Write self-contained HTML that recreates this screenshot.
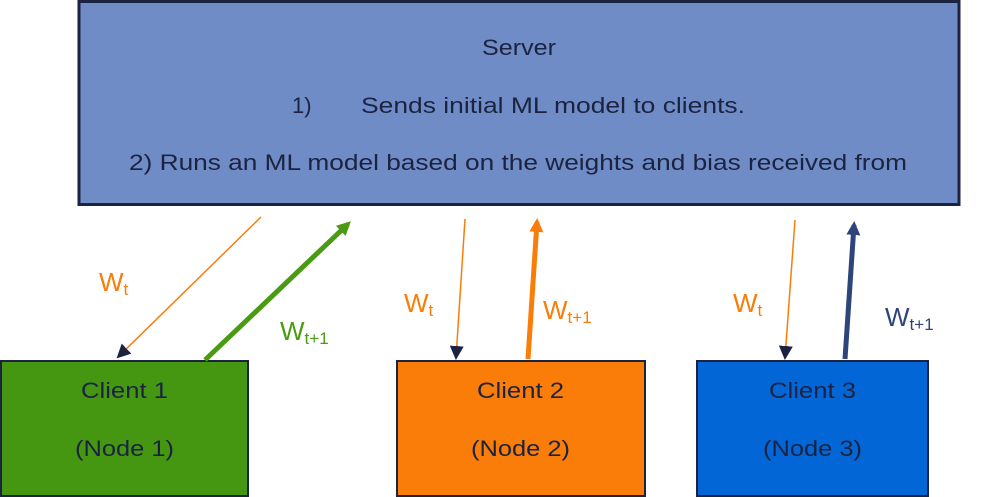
<!DOCTYPE html>
<html><head><meta charset="utf-8"><style>
html,body{margin:0;padding:0;background:#fff;}
svg{display:block;}
text{font-family:"Liberation Sans",sans-serif;}
</style></head><body>
<svg width="997" height="497" viewBox="0 0 997 497" xmlns="http://www.w3.org/2000/svg">
<defs>
<marker id="ah" markerWidth="14" markerHeight="14" refX="12" refY="7" orient="auto" markerUnits="userSpaceOnUse"><path d="M0,0 L14,7 L0,14 Z" fill="#1c2340"/></marker>
<marker id="ag" markerWidth="14" markerHeight="14" refX="10" refY="7" orient="auto" markerUnits="userSpaceOnUse"><path d="M0,0 L14,7 L0,14 Z" fill="#4a9a12"/></marker>
<marker id="ao" markerWidth="14" markerHeight="14" refX="10" refY="7" orient="auto" markerUnits="userSpaceOnUse"><path d="M0,0 L14,7 L0,14 Z" fill="#f97d08"/></marker>
<marker id="an" markerWidth="14" markerHeight="14" refX="10" refY="7" orient="auto" markerUnits="userSpaceOnUse"><path d="M0,0 L14,7 L0,14 Z" fill="#2f4479"/></marker>
</defs>
<rect x="79" y="1.5" width="880" height="203" fill="#6f8cc7" stroke="#1c2340" stroke-width="3"/>
<text x="482" y="55" font-size="22" fill="#1c2340" textLength="74" lengthAdjust="spacingAndGlyphs">Server</text>
<text x="292" y="113" font-size="22" fill="#1c2340">1)</text>
<text x="361" y="113" font-size="22" fill="#1c2340" textLength="384" lengthAdjust="spacingAndGlyphs">Sends initial ML model to clients.</text>
<text x="129" y="170" font-size="22" fill="#1c2340" textLength="778" lengthAdjust="spacingAndGlyphs">2)  Runs an ML model based on the weights and bias received from</text>

<rect x="1" y="361" width="247" height="135" fill="#459712" stroke="#1c2340" stroke-width="2"/>
<rect x="397" y="361" width="248" height="135" fill="#f97d08" stroke="#1c2340" stroke-width="2"/>
<rect x="697" y="361" width="231" height="135" fill="#0366d6" stroke="#1c2340" stroke-width="2"/>
<g font-size="22" fill="#1c2340">
<text x="81" y="398" textLength="87" lengthAdjust="spacingAndGlyphs">Client 1</text><text x="75" y="456" textLength="99" lengthAdjust="spacingAndGlyphs">(Node 1)</text>
<text x="477" y="398" textLength="87" lengthAdjust="spacingAndGlyphs">Client 2</text><text x="471" y="456" textLength="99" lengthAdjust="spacingAndGlyphs">(Node 2)</text>
<text x="769" y="398" textLength="87" lengthAdjust="spacingAndGlyphs">Client 3</text><text x="763" y="456" textLength="99" lengthAdjust="spacingAndGlyphs">(Node 3)</text>
</g>

<line x1="261" y1="217" x2="118" y2="357" stroke="#f97d08" stroke-width="1.5" marker-end="url(#ah)"/>
<line x1="465" y1="219" x2="456" y2="358" stroke="#f97d08" stroke-width="1.5" marker-end="url(#ah)"/>
<line x1="795" y1="220" x2="785" y2="358" stroke="#f97d08" stroke-width="1.5" marker-end="url(#ah)"/>
<line x1="205" y1="360" x2="348" y2="224" stroke="#4a9a12" stroke-width="5" marker-end="url(#ag)"/>
<line x1="528" y1="359" x2="537" y2="222" stroke="#f97d08" stroke-width="5" marker-end="url(#ao)"/>
<line x1="845" y1="359" x2="854" y2="225" stroke="#2f4479" stroke-width="5" marker-end="url(#an)"/>

<g font-size="26">
<text x="99" y="291" fill="#f97d08">W<tspan font-size="17" dy="4">t</tspan></text>
<text x="280" y="340" fill="#4a9a12">W<tspan font-size="17" dy="4">t+1</tspan></text>
<text x="404" y="312" fill="#f97d08">W<tspan font-size="17" dy="4">t</tspan></text>
<text x="543" y="319" fill="#f97d08">W<tspan font-size="17" dy="4">t+1</tspan></text>
<text x="733" y="312" fill="#f97d08">W<tspan font-size="17" dy="4">t</tspan></text>
<text x="885" y="326" fill="#2f4479">W<tspan font-size="17" dy="4">t+1</tspan></text>
</g>
</svg>
</body></html>
